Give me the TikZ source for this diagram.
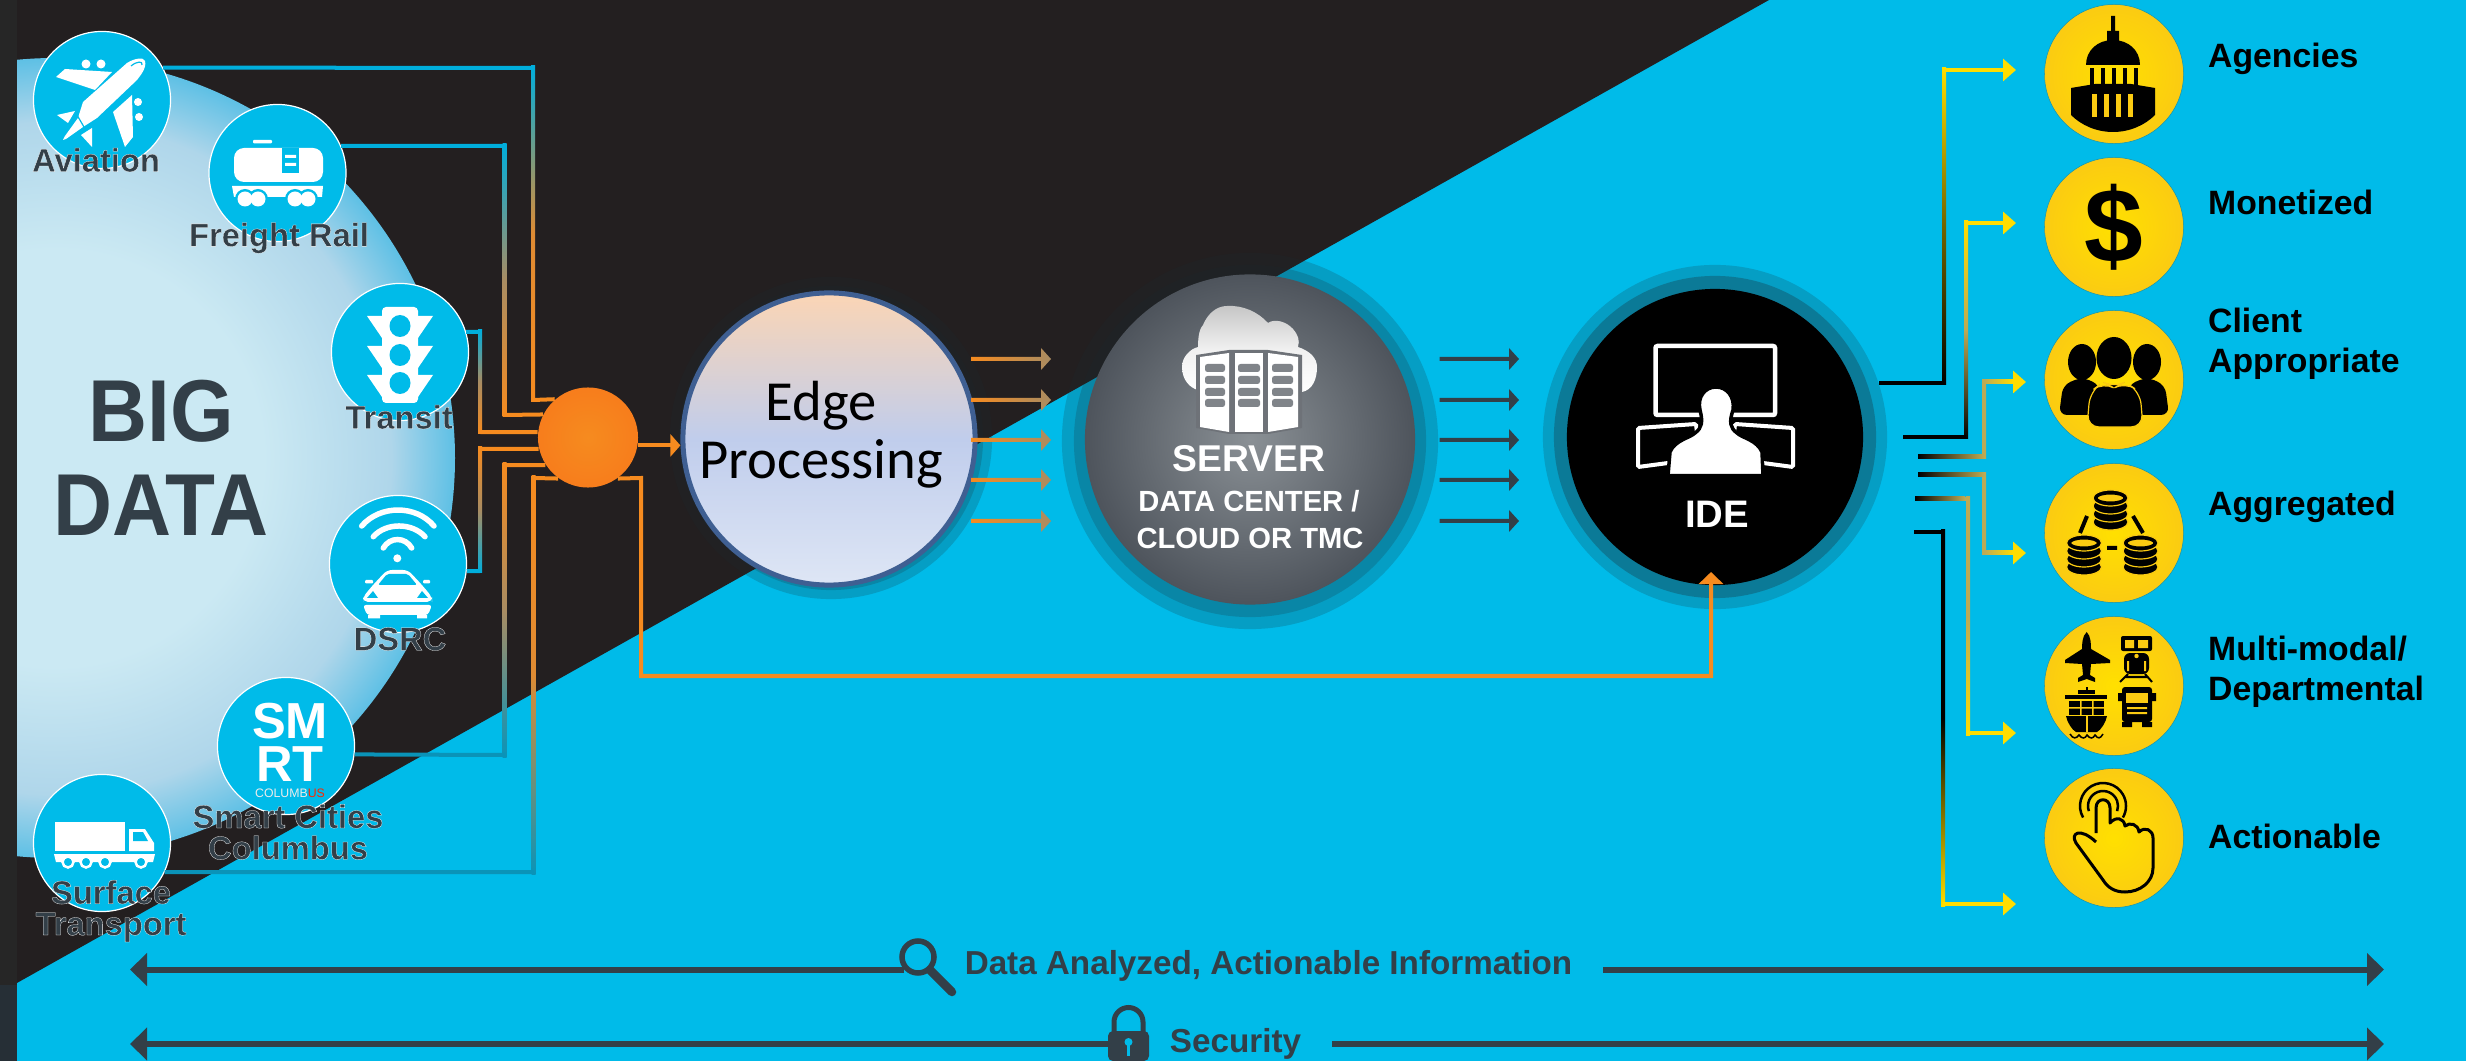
\documentclass[tikz,border=0pt]{standalone}
\usepackage{fontspec}
\setmainfont{Liberation Sans}
\newfontfamily\edgefont{Carlito}
\usetikzlibrary{arrows.meta,calc,positioning}

\definecolor{bgcyan}{HTML}{00BBE9}
\definecolor{bgblack}{HTML}{231F20}
\definecolor{textdark}{HTML}{333F48}
\definecolor{wirecyan}{HTML}{00AEDC}
\definecolor{wireteal}{HTML}{0A93B8}
\definecolor{wireorange}{HTML}{F68B1F}
\definecolor{wiretan}{HTML}{A98C62}
\definecolor{wiregold}{HTML}{BDAA55}
\definecolor{wireyellow}{HTML}{FFDD00}
\definecolor{coin}{HTML}{FBCB12}
\definecolor{coinlight}{HTML}{FFE000}
\definecolor{halotint}{HTML}{1A2A30}
\definecolor{bigpale}{HTML}{CBE9F3}
\definecolor{bigmid}{HTML}{AFD6EA}
\definecolor{bigrim}{HTML}{5EC0E5}
\definecolor{edgetop}{HTML}{FBD5B5}
\definecolor{edgemid}{HTML}{C0CDEC}
\definecolor{edgebot}{HTML}{DEE6F5}
\definecolor{edgerim}{HTML}{3F5F92}
\definecolor{serverin}{HTML}{8A9095}
\definecolor{serverout}{HTML}{4E545C}
\definecolor{servergap}{HTML}{6E7278}
\definecolor{serverslot}{HTML}{808489}

\pgfdeclareradialshading{bigdatashade}{\pgfpoint{0bp}{0bp}}{%
  color(0bp)=(bigpale);
  color(13bp)=(bigpale);
  color(21bp)=(bigmid);
  color(25bp)=(bigrim);
  color(50bp)=(bigrim)}

\newcommand{\rim}{\special{pdf:code 1 1 1 RG}}

\tikzset{
  srccircle/.style={circle,fill=bgcyan,draw=white,line width=.012cm,inner sep=0pt,minimum size=1.37cm},
  srclabel/.style={text=textdark,align=center,inner sep=0pt,
    font=\fontsize{9.3}{8.9}\selectfont\bfseries\addfontfeature{FakeBold=.8}},
  coinnode/.style={circle,inner color=coinlight,outer color=coin,draw=wireteal,line width=.005cm,inner sep=0pt,minimum size=1.39cm},
  outlabel/.style={anchor=west,align=left,inner sep=0pt,font=\fontsize{9.6}{11.4}\selectfont\bfseries},
  barlabel/.style={text=textdark,inner sep=0pt,font=\fontsize{9.45}{11}\selectfont\bfseries},
  halo/.style={circle,fill=halotint,fill opacity=.2,inner sep=0pt},
  whitetext/.style={text=white,font=\fontsize{#1}{#1}\selectfont\bfseries,inner sep=0pt},
  wireline/.style={line width=.04cm},
  tipstart/.style={{Triangle[length=.13cm,width=.22cm,color=wireyellow]}-},
  tipend/.style={-{Triangle[length=.13cm,width=.22cm,color=wireyellow]}},
  barline/.style={line width=.06cm,textdark},
  bartip/.style={-{Triangle[length=.17cm,width=.32cm]}}
}

% top-to-bottom elbow: start, corner, corner, end, top colour, middle colour, bottom colour, options of the two ends
\newcommand{\elbow}[9]{%
  \draw[wireline,#5,#8] (#1) -- (#2);
  \shade[top color=#5,bottom color=#7,middle color=#6] ($(#2)+(-2,-2)$) rectangle ($(#3)+(2,2)$);
  \draw[wireline,#7,#9] (#3) -- (#4);
}

\newcommand{\dbstack}[2]{%
  \foreach \d in {24,16,8,0}
    \draw[fill=black,draw=coin,line width=.012cm] (#1,#2+\d) ellipse [x radius=17.5,y radius=8];
  \draw[fill=coin,draw=black,line width=.02cm] (#1,#2) ellipse [x radius=14,y radius=4.5];
}

\begin{document}
\begin{tikzpicture}[x=.01cm,y=-.01cm]
\useasboundingbox (0,0) rectangle (2466,1061);

% background
\fill[bgcyan] (0,0) rectangle (2466,1061);
\fill[bgblack] (0,0) -- (1769,0) -- (0,992.5) -- cycle;
\fill[black!85!white] (0,0) rectangle (17,985);
\fill[textdark!75!black] (0,985) rectangle (17,1061);

% big data
\begin{scope}
  \clip (17,0) rectangle (600,900);
  \shade[shading=bigdatashade] (55,458) circle [radius=400];
\end{scope}
\node[text=textdark,align=center,inner sep=0pt,font=\fontsize{25}{26.7}\selectfont\bfseries\addfontfeature{FakeStretch=.93}] (bigdata) at (161,458) {BIG\\DATA};

% sources
\node[srccircle] (aviation) at (102,100) {};
\node[srccircle] (freight) at (277.5,173) {};
\node[srccircle] (transit) at (400,352) {};
\node[srccircle] (dsrc) at (398,564) {};
\node[srccircle] (smart) at (286,746) {};
\node[srccircle] (surface) at (102,843) {};

\node[circle,inner color=wireorange,outer color=wireorange!90!red,inner sep=0pt,minimum size=1cm] (hub) at (588,437.5) {};

\coordinate (a1) at (533,68);
\coordinate (a2) at (533,400);
\coordinate (f1) at (504.5,146);
\coordinate (f2) at (504.5,415);
\coordinate (t1) at (480,332);
\coordinate (t2) at (480,432);
\coordinate (d1) at (480,449);
\coordinate (d2) at (480,571);
\coordinate (m1) at (504.5,465);
\coordinate (m2) at (504.5,755);
\coordinate (s1) at (533.5,478);
\coordinate (s2) at (533.5,872);

\elbow{aviation.28}{a1}{a2}{hub.131}{wirecyan}{wireorange!70!wiretan}{wireorange}{}{}
\elbow{freight.23}{f1}{f2}{hub.153}{wirecyan}{wiretan}{wireorange}{}{}
\elbow{transit.17}{t1}{t2}{hub.174}{wirecyan}{wiretan}{wireorange}{}{}
\elbow{hub.193}{d1}{d2}{dsrc.-6}{wireorange}{wiretan}{wirecyan}{}{}
\elbow{hub.213}{m1}{m2}{smart.-7.5}{wireorange}{wiretan}{wireteal}{}{}
\elbow{hub.234}{s1}{s2}{surface.-25}{wireorange}{wireorange!70!wiretan}{wireteal}{}{}

% edge and the servers
\node[halo,minimum size=3.22cm] (edgehalo) at (831,438) {};
\node[halo,minimum size=3.04cm] (edgehaloin) at (831,438) {};
\node[halo,minimum size=3.76cm] (serverhalo) at (1250,441) {};
\node[halo,minimum size=3.52cm] (serverhaloin) at (1250,441) {};
\node[halo,minimum size=3.44cm] (idehalo) at (1715,437) {};
\node[halo,minimum size=3.22cm,fill opacity=.3] (idehaloin) at (1715,437) {};

\node[circle,draw=edgerim,line width=.05cm,inner sep=0pt,minimum size=2.92cm,
  top color=edgetop,bottom color=edgebot,middle color=edgemid] (edge) at (829,439) {};
\node[align=center,inner sep=0pt,font=\edgefont\fontsize{16.1}{16.5}\selectfont] (edgetext) at (821,435) {Edge\\Processing};

\node[circle,inner color=serverin,outer color=serverout,inner sep=0pt,minimum size=3.3cm] (server) at (1250,439.5) {};
\node[circle,fill=black,inner sep=0pt,minimum size=2.96cm] (ide) at (1715,437) {};

% hub to edge and hub to ide
\coordinate (edgeentry) at (hub.-9-|edge.west);
\draw[wireline,wireorange,-{Triangle[length=.1cm,width=.22cm]}] (hub.-9) -- (edgeentry);
\coordinate (hubtail) at (641,478);
\coordinate (hubfoot) at (641,676);
\coordinate (idefoot) at (1711,676);
\coordinate (idetip) at (1711,572);
\draw[wireline,wireorange,-{Triangle[length=.12cm,width=.24cm]}] (hub.-54) -- (hubtail) -- (hubfoot) -- (idefoot) -- (idetip);

% short arrows
\foreach \i/\y in {1/359,2/400,3/440,4/480,5/521} {
  \coordinate (ea\i) at (971,\y);
  \coordinate (sa\i) at (1439.5,\y);
  \shade[left color=wireorange,right color=wiretan] (ea\i)+(0,-2) -- +(70,-2) -- +(70,-11) -- +(80,0) -- +(70,11) -- +(70,2) -- +(0,2) -- cycle;
  \fill[textdark] (sa\i)+(0,-2) -- +(69.5,-2) -- +(69.5,-11) -- +(79.5,0) -- +(69.5,11) -- +(69.5,2) -- +(0,2) -- cycle;
}

% server texts
\node[whitetext=10.6] (servertext) at (1249,459) {SERVER};
\node[whitetext=8.3] (centertext) at (1249,501) {DATA CENTER /};
\node[whitetext=8.3] (cloudtext) at (1250,538) {CLOUD OR TMC};
\node[whitetext=10.9] (idetext) at (1717,514) {IDE};

% source labels
\node[srclabel] (aviationlabel) at (96,160) {\rim Aviation};
\node[srclabel] (freightlabel) at (279,238) {\rim Freight Rail};
\node[srclabel] (transitlabel) at (399,417) {\rim Transit};
\node[srclabel] (dsrclabel) at (400,639) {\rim DSRC};
\node[srclabel] (smartlabel) at (288,832) {\rim Smart Cities\\\rim Columbus};
\node[srclabel] (surfacelabel) at (111,911) {\rim Surface\\\rim Transport};

% plane
\fill[white] (127,63) .. controls (135,58) and (144,57) .. (145,61) .. controls (147,68) and (140,76) .. (137,80) -- (97,118) -- (83,127) -- (66,139) -- (63,140) -- (65,136) -- (78,118) -- (83,102) -- cycle;
\draw[bgcyan,line width=.012cm] (77,115) -- (84,127);
\draw[bgcyan,line width=.012cm] (131,66) .. controls (137,61) and (143,61) .. (142,65);
\fill[white] (56,77) -- (65,69) -- (112,72) -- (95,90) -- cycle;
\fill[white] (132,95) -- (113,112) -- (125,147) -- (133,137) -- cycle;
\fill[white] (57,115) -- (75,111) -- (68,123) -- cycle;
\fill[white] (81,135) -- (92,128) -- (92,147) -- cycle;
\fill[white] (86,64) circle [radius=4.5] (101,64) circle [radius=4.5] (138,102) circle [radius=4] (139,117) circle [radius=4];

% rail car
\fill[white,rounded corners=.1cm] (234,148) rectangle (323,182);
\fill[white,rounded corners=.01cm] (253,140) rectangle (272,143.5);
\fill[bgcyan] (282,148) rectangle (299,173);
\fill[white] (285,155) rectangle (296,158) (285,163) rectangle (296,166);
\fill[white] (232,186) -- (323,186) -- (322,197) -- (234,197) -- cycle;
\foreach \x in {245,258,295,308}
  \fill[bgcyan] (\x,199) circle [radius=10];
\foreach \x in {245,258,295,308}
  \fill[white] (\x,199) circle [radius=7.5];

% traffic light
\foreach \y in {316,346,375} {
  \fill[white] (367,\y) -- (433,\y) -- (418,\y+22) -- (382,\y+22) -- cycle;
}
\fill[white,rounded corners=.04cm] (382,307) rectangle (418,403);
\foreach \y in {326,355,383}
  \fill[bgcyan] (400,\y) ellipse [x radius=10.5,y radius=11];

% wifi car
\fill[white] (397.3,558.3) circle [radius=4];
\draw[white,line width=.055cm,line cap=round] (383.3,548) .. controls (390,536.7) and (405,536.7) .. (411.7,548);
\draw[white,line width=.055cm,line cap=round] (373.3,536.7) .. controls (386,522.4) and (412,522.4) .. (425,536.7);
\draw[white,line width=.055cm,line cap=round] (361.7,526) .. controls (380,504.7) and (416,504.7) .. (434,526);
\fill[white,rounded corners=.05cm] (387,570) -- (408,570) -- (422,585) -- (432,597) -- (432,602) -- (363,602) -- (363,597) -- (373,585) -- cycle;
\fill[white,rounded corners=.01cm] (365,580) rectangle (373,583.5) (423,580) rectangle (430,583.5);
\fill[white,rounded corners=.03cm] (363,605) -- (432,605) -- (428,615) -- (367,615) -- cycle;
\fill[bgcyan,rounded corners=.02cm] (378,585) -- (387,574) -- (408,574) -- (417,585) -- cycle;
\fill[bgcyan] (367,598) -- (373,591) -- (378,598) -- cycle (417,598) -- (422,591) -- (428,598) -- cycle;
\fill[white] (368,615) rectangle (380,618.5) (417,615) rectangle (427,618.5);

% smart columbus logo
\node[text=white,align=center,inner sep=0pt,font=\fontsize{14.4}{12.2}\selectfont\bfseries] (smlogo) at (290,742.5) {SM\\RT};
\node[inner sep=0pt,text=white!85!gray,font=\fontsize{3.5}{4}\selectfont] (columbuslogo) at (290,793) {COLUMB\textcolor{red!70!orange}{US}};

% truck
\fill[white] (54.5,822) rectangle (125,851);
\fill[white] (129,829) -- (145,829) -- (154,843) -- (154,851) -- (129,851) -- cycle;
\fill[bgcyan] (133,832) -- (143,832) -- (148,841) -- (133,841) -- cycle;
\fill[white] (54,854) -- (155,854) -- (153,862) -- (56,862) -- cycle;
\foreach \x in {68,86,105,141}
  \draw[fill=bgcyan,draw=white,line width=.025cm] (\x,862) circle [radius=5.5];

% cloud and building
\shade[top color=gray!45!white,bottom color=white,middle color=white!88!gray] (1182,367) .. controls (1182,357) and (1190,349) .. (1198,347) .. controls (1198,335) and (1200,328) .. (1203,325) .. controls (1208,313) and (1217,306) .. (1227,306) .. controls (1243,305) and (1258,312) .. (1268,323) .. controls (1275,318) and (1287,322) .. (1293,329) .. controls (1298,335) and (1300,340) .. (1298,347) .. controls (1310,351) and (1317,358) .. (1317,367) .. controls (1317,380) and (1312,390) .. (1302,392) -- (1198,390) .. controls (1190,388) and (1182,380) .. (1182,367) -- cycle;
\fill[servergap] (1196,355) -- (1229,350) -- (1268,350) -- (1302,355) -- (1302,428) -- (1268,434) -- (1229,434) -- (1196,428) -- cycle;
\fill[white] (1200,357) -- (1229,353) -- (1229,432) -- (1200,427) -- cycle;
\fill[white] (1235,353) rectangle (1263,432);
\fill[white] (1268,353) -- (1298,357) -- (1298,427) -- (1268,432) -- cycle;
\foreach \x/\w in {1205/20,1238/22,1272/21}
  \foreach \y in {364,376,388,399}
    \fill[serverslot,rounded corners=.025cm] (\x,\y) rectangle ++(\w,8);

% person at the screens
\draw[white,line width=.045cm,rounded corners=.02cm] (1655.5,346) rectangle (1775,415);
\draw[white,line width=.04cm,rounded corners=.015cm] (1697,433) -- (1696,424) -- (1638,428) -- (1638,467) -- (1668,463);
\draw[white,line width=.04cm,rounded corners=.015cm] (1734,433) -- (1735,424) -- (1793,428) -- (1793,467) -- (1763,463);
\draw[fill=white,draw=black,line width=.035cm] (1668,475.6) -- (1670,452) .. controls (1675,440) and (1690,438) .. (1695,433) .. controls (1702,428) and (1703,422) .. (1700,410) .. controls (1697,397) and (1705,387) .. (1716,387) .. controls (1727,387) and (1735,397) .. (1733,410) .. controls (1729,422) and (1730,428) .. (1737,433) .. controls (1742,438) and (1757,440) .. (1762,452) -- (1763,475.6) -- cycle;

% outputs
\node[coinnode] (agencies) at (2114,74) {};
\node[coinnode] (monetized) at (2114,227) {};
\node[coinnode] (client) at (2114,380) {};
\node[coinnode] (aggregated) at (2114,533) {};
\node[coinnode] (multimodal) at (2114,686) {};
\node[coinnode] (actionable) at (2114,838) {};

\node[outlabel] (agenciestext) at (2207.5,59) {Agencies};
\node[outlabel] (monetizedtext) at (2207.5,202) {Monetized};
\node[outlabel] (clienttext) at (2207.5,343.5) {Client\\Appropriate};
\node[outlabel] (aggregatedtext) at (2207.5,507) {Aggregated};
\node[outlabel] (multimodaltext) at (2207.5,672) {Multi-modal/\\Departmental};
\node[outlabel] (actionabletext) at (2207.5,836) {Actionable};

% capitol
\fill[black] (2111,16) rectangle (2115,32) (2107,31) rectangle (2119,42);
\fill[black] (2086,65) .. controls (2086,50) and (2098,40) .. (2113,40) .. controls (2128,40) and (2140,50) .. (2140,65) -- cycle;
\foreach \x in {2090,2101,2112,2123,2134}
  \fill[black] (\x,68) rectangle ++(4,18);
\fill[black] (2071,88) -- (2095,84) -- (2131,84) -- (2155,88) -- (2155,115) .. controls (2145,125) and (2130,132) .. (2113,132) .. controls (2096,132) and (2081,125) .. (2071,115) -- cycle;
\foreach \x in {2092,2104,2116,2128}
  \fill[coin] (\x,94) rectangle ++(5,23);

% dollar
\node[inner sep=0pt,font=\fontsize{30}{30}\selectfont\bfseries] (dollar) at (2114,227) {\$};

% people
\fill[black] (2082,362) ellipse [x radius=14,y radius=18];
\fill[black] (2147,362) ellipse [x radius=14,y radius=18];
\fill[black,rounded corners=.08cm] (2059,415) -- (2063,385) -- (2082,377) -- (2100,385) -- (2100,415) -- cycle;
\fill[black,rounded corners=.08cm] (2169,415) -- (2165,385) -- (2147,377) -- (2128,385) -- (2128,415) -- cycle;
\fill[black] (2114,358) ellipse [x radius=17.5,y radius=21];
\draw[fill=black,draw=coin,line width=.012cm,rounded corners=.12cm] (2087,427) -- (2090,392) -- (2103,382) -- (2114,388) -- (2125,382) -- (2140,392) -- (2143,427) -- cycle;

% databases
\dbstack{2110.5}{498}
\dbstack{2084}{543}
\dbstack{2140.5}{543}
\draw[black,line width=.04cm] (2087,516) -- (2080,533) (2133,516) -- (2143,533) (2107,548) -- (2117,548);

% small plane
\fill[black] (2086.7,632) .. controls (2091,636) and (2091,645) .. (2091,649) -- (2110,660) -- (2110,663) -- (2091,664) -- (2090,675) -- (2095,678) -- (2095,682) -- (2086.7,679) -- (2078,682) -- (2078,678) -- (2083,675) -- (2082,664) -- (2065,663) -- (2065,660) -- (2082,649) .. controls (2082,645) and (2082,636) .. (2086.7,632) -- cycle;
% small train
\fill[black,rounded corners=.02cm] (2121,636) rectangle (2152,651);
\fill[coin] (2125,640) rectangle (2134,648) (2138,640) rectangle (2148,648);
\fill[black,rounded corners=.06cm] (2124,653) rectangle (2149,674);
\fill[coin] (2136.5,656) circle [radius=2.2];
\fill[coin] (2127,661) rectangle (2129,671) (2144,661) rectangle (2146,671);
\draw[black,line width=.02cm] (2128,674) -- (2120,682) (2145,674) -- (2152,682) (2125,677) -- (2148,677);
% small ship
\fill[black] (2086,687) rectangle (2088,691);
\fill[black] (2078,690) rectangle (2095,694);
\fill[black] (2065,695) rectangle (2107,699);
\fill[black] (2069,701) rectangle (2104,715);
\fill[coin] (2080,701) rectangle (2081.5,715) (2092,701) rectangle (2093.5,715) (2069,707) rectangle (2104,708.5);
\fill[black] (2066,716) -- (2107,716) .. controls (2106,722) and (2101,730) .. (2097,732) -- (2076,732) .. controls (2072,730) and (2067,722) .. (2066,716) -- cycle;
\fill[coin] (2086,716) rectangle (2087.5,732);
\draw[black,line width=.015cm] (2070,734) .. controls (2073,739) and (2076,739) .. (2079,735) .. controls (2082,739) and (2085,739) .. (2087,735) .. controls (2090,739) and (2093,739) .. (2095,735) .. controls (2098,739) and (2100,739) .. (2103,734);
% small truck
\fill[black,rounded corners=.03cm] (2122,687) rectangle (2152,722);
\fill[coin] (2126,693) rectangle (2148,703);
\fill[coin] (2127,707) rectangle (2147,709) (2127,712) rectangle (2147,714);
\fill[black] (2118,693) rectangle (2122,701) (2152,693) rectangle (2156,701);
\fill[black] (2122,722) rectangle (2132,727) (2142,722) rectangle (2152,727);

% hand
\draw[black,line width=.03cm,line join=round] (2096,833) -- (2096,808) .. controls (2096,797) and (2110,797) .. (2110,808) -- (2110,823) .. controls (2116,816) and (2124,818) .. (2125,826) .. controls (2130,822) and (2138,824) .. (2139,832) .. controls (2145,826) and (2153,830) .. (2153,838) -- (2153,868) .. controls (2153,882) and (2140,892) .. (2125,892) .. controls (2115,892) and (2108,888) .. (2103,880) -- (2076,843) .. controls (2070,833) and (2080,827) .. (2096,842);
\draw[black,line width=.025cm] (2103,806)+(160:15) arc (160:380:15);
\draw[black,line width=.025cm] (2103,806)+(150:23) arc (150:390:23);

% yellow wires out of ide
\coordinate (stub1) at (1879,383);
\coordinate (stub2) at (1903,437);
\coordinate (stub3) at (1918,457);
\coordinate (stub4) at (1918,475);
\coordinate (stub5) at (1915,499);
\coordinate (stub6) at (1914,532);
\coordinate (tip1) at (2016,70);
\coordinate (tip2) at (2016,223);
\coordinate (tip3) at (2026,382);
\coordinate (tip4) at (2026,553);
\coordinate (tip5) at (2016,733);
\coordinate (tip6) at (2016,904);

\elbow{tip1}{1944,70}{1944,383}{stub1}{wireyellow}{black!55!wireyellow}{black}{tipstart}{}
\elbow{tip2}{1966,223}{1966,437}{stub2}{wireyellow}{wiregold}{black}{tipstart}{}
\elbow{tip3}{1984,382}{1984,457}{stub3}{wiregold}{wiregold}{wiregold}{tipstart}{}
\elbow{stub4}{1984,475}{1984,553}{tip4}{wiregold}{wiregold}{wiregold}{}{tipend}
\elbow{stub5}{1968,499}{1968,733}{tip5}{wiregold}{wiregold}{wireyellow}{}{tipend}
\elbow{stub6}{1943,532}{1943,904}{tip6}{black}{black}{wireyellow}{}{tipend}
% black into gold on the short stubs
\foreach \s/\c in {stub3/1984,stub4/1984,stub5/1968}
  \shade[left color=black,right color=wiregold] ($(\s)+(0,-2)$) rectangle ($(\s)+(0,2)+(\c-1918,0)$);
\shade[left color=wiregold,right color=wireyellow] (1984,380) rectangle (2013,384);
\shade[left color=wiregold,right color=wireyellow] (1984,551) rectangle (2013,555);

% bottom bars
\coordinate (lensleft) at (904,969.5);
\coordinate (dataleft) at (130,969.5);
\coordinate (dataright) at (1603,969.5);
\coordinate (dataend) at (2384,969.5);
\coordinate (lockleft) at (1110,1044);
\coordinate (secleft) at (130,1044);
\coordinate (secright) at (1332,1044);
\coordinate (secend) at (2384,1044);
\draw[barline,bartip] (lensleft) -- (dataleft);
\draw[barline,bartip] (dataright) -- (dataend);
\draw[barline,bartip] (lockleft) -- (secleft);
\draw[barline,bartip] (secright) -- (secend);
\node[barlabel] (datatext) at (1268.5,966) {Data Analyzed, Actionable Information};
\node[barlabel] (securitytext) at (1235.5,1044) {Security};

% magnifier and lock
\draw[textdark,line width=.055cm] (918,957) circle [radius=16];
\draw[textdark,line width=.085cm,line cap=round] (930,970) -- (952,992);
\draw[textdark,line width=.05cm] (1114,1034) -- (1114,1022) arc (180:360:14.5) -- (1143,1034);
\fill[textdark,rounded corners=.05cm] (1108,1031) rectangle (1149,1061);
\fill[bgcyan] (1128.5,1042) circle [radius=4];
\fill[bgcyan] (1127,1042) rectangle (1130,1056);

\end{tikzpicture}
\end{document}
